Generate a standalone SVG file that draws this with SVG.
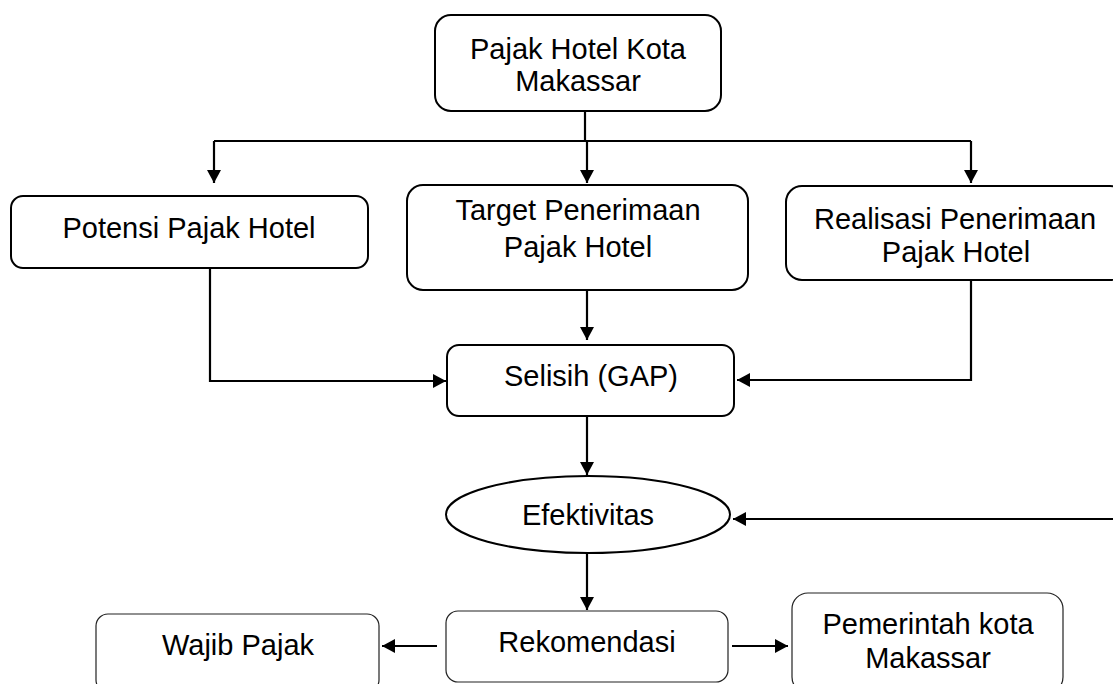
<svg xmlns="http://www.w3.org/2000/svg" width="1113" height="684" viewBox="0 0 1113 684">
<style>
.box{fill:#fff;stroke:#000;stroke-width:2}
.thin{fill:#fff;stroke:#222;stroke-width:1.2}
.t{font-family:"Liberation Sans",Arial,sans-serif;font-size:29px;fill:#000;text-anchor:middle}
.c{fill:none;stroke:#000;stroke-width:2.2}
</style>
<defs>
<marker id="ah" markerUnits="userSpaceOnUse" markerWidth="14" markerHeight="14" refX="13" refY="7" orient="auto">
<path d="M0,0 L13,7 L0,14 z" fill="#000"/>
</marker>
</defs>
<rect width="1113" height="684" fill="#fff"/>
<g id="connectors">
<path class="c" d="M585,111 V141"/>
<path class="c" d="M214,141 H971"/>
<path class="c" d="M214,141 V183" marker-end="url(#ah)"/>
<path class="c" d="M587,141 V183" marker-end="url(#ah)"/>
<path class="c" d="M971,141 V183" marker-end="url(#ah)"/>
<path class="c" d="M587,290 V340" marker-end="url(#ah)"/>
<path class="c" d="M210,268 V381 H446" marker-end="url(#ah)"/>
<path class="c" d="M971,277 V380 H737" marker-end="url(#ah)"/>
<path class="c" d="M587,416 V475" marker-end="url(#ah)"/>
<path class="c" d="M1113,519 H733" marker-end="url(#ah)"/>
<path class="c" d="M587,553 V610" marker-end="url(#ah)"/>
<path class="c" d="M437,646 H382" marker-end="url(#ah)"/>
<path class="c" d="M732,646 H788" marker-end="url(#ah)"/>
</g>
<g id="pajak-hotel">
<rect class="box" x="435" y="15" width="286" height="96" rx="16"/>
<text class="t" x="578" y="59">Pajak Hotel Kota</text>
<text class="t" x="578" y="91">Makassar</text>
</g>
<g id="potensi">
<rect class="box" x="11" y="196" width="357" height="72" rx="12"/>
<text class="t" x="189" y="238">Potensi Pajak Hotel</text>
</g>
<g id="target">
<rect class="box" x="407" y="185" width="341" height="105" rx="16"/>
<text class="t" x="578" y="220">Target Penerimaan</text>
<text class="t" x="578" y="257">Pajak Hotel</text>
</g>
<g id="realisasi">
<rect class="box" x="786" y="186" width="340" height="94" rx="16"/>
<text class="t" x="955" y="229">Realisasi Penerimaan</text>
<text class="t" x="956" y="262">Pajak Hotel</text>
</g>
<g id="selisih">
<rect class="box" x="447" y="345" width="287" height="71" rx="12"/>
<text class="t" x="591" y="386">Selisih (GAP)</text>
</g>
<g id="efektivitas">
<ellipse class="box" cx="588" cy="514.5" rx="142" ry="38.5"/>
<text class="t" x="588" y="525">Efektivitas</text>
</g>
<g id="rekomendasi">
<rect class="thin" x="446" y="611" width="282" height="71" rx="12"/>
<text class="t" x="587" y="652">Rekomendasi</text>
</g>
<g id="wajib-pajak">
<rect class="thin" x="96" y="614" width="283" height="78" rx="12"/>
<text class="t" x="238" y="655">Wajib Pajak</text>
</g>
<g id="pemerintah">
<rect class="thin" x="792" y="593" width="271" height="100" rx="16"/>
<text class="t" x="928" y="634">Pemerintah kota</text>
<text class="t" x="928" y="668">Makassar</text>
</g>
</svg>
